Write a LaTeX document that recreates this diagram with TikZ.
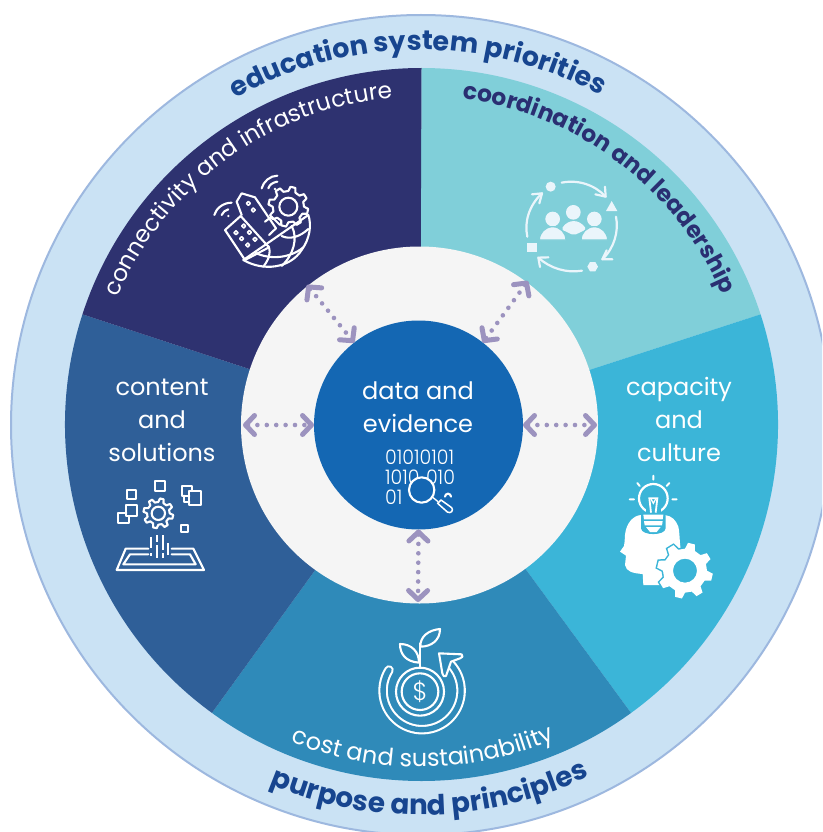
\documentclass[tikz,border=0pt]{standalone}
\usepackage{fontspec}
\setmainfont{Poppins}
\newfontfamily\plight{Poppins Light}
\usetikzlibrary{arrows.meta,decorations.text}
\definecolor{ringfill}{HTML}{CAE2F4}
\definecolor{ringline}{HTML}{9DB8DF}
\definecolor{secA}{HTML}{2E3270}
\definecolor{secB}{HTML}{80CFD9}
\definecolor{secC}{HTML}{3BB5D8}
\definecolor{secD}{HTML}{2F8AB9}
\definecolor{secE}{HTML}{2F5F98}
\definecolor{hubc}{HTML}{1467B3}
\definecolor{innerc}{HTML}{F5F5F5}
\definecolor{arrowc}{HTML}{9C93BF}
\definecolor{titleblue}{HTML}{17458F}
\definecolor{titlenavy}{HTML}{2A2F72}
\definecolor{pale}{HTML}{EAF5FB}
\newcommand{\sector}[3]{\fill[#3] (421.5,424.5) ++(#1:356.5) arc[start angle=#1,end angle=#2,radius=356.5] -- (420,425) -- cycle;}
\newcommand{\gearpts}[3]{% teeth, root, tip
  (0:#2) \foreach \i in {1,...,#1}{
    -- ({(\i-1+0.14)*360/#1}:#3) -- ({(\i-1+0.46)*360/#1}:#3) -- ({(\i-1+0.6)*360/#1}:#2) -- ({\i*360/#1}:#2)
  } -- cycle}
\newcommand{\wlabel}{\fontsize{24}{33}\selectfont}
\newcommand{\topbold}{\fontsize{26.9}{27}\selectfont\bfseries}
\newcommand{\botbold}{\fontsize{27.8}{28}\selectfont\bfseries}
\newcommand{\midbold}{\fontsize{23.3}{24}\selectfont\bfseries}
\newcommand{\midreg}{\fontsize{23.2}{24}\selectfont}
\newcommand{\lowreg}{\fontsize{24}{24}\selectfont}
\tikzset{
  lab/.style={text=white,align=center,inner sep=0pt},
  ico/.style={draw=white,line width=2.1pt,line cap=round,line join=round},
  dotarrow/.style={arrowc,line width=4.6pt,line cap=round,dash pattern=on 0pt off 9.4pt,
    {Straight Barb[length=9pt,width=19pt,line width=5pt,round]}-{Straight Barb[length=9pt,width=19pt,line width=5pt,round]}},
  hubnode/.style={circle,fill=hubc,minimum size=209pt,inner sep=0pt,outer sep=0pt},
}
\begin{document}
\begin{tikzpicture}[x=1pt,y=-1pt]
\useasboundingbox (0,0) rectangle (822,832);
\clip (0,0) rectangle (822,832);
\fill[white] (0,0) rectangle (822,832);
\draw[ringline,fill=ringfill,line width=2pt] (421,425) circle[radius=410];
\sector{270}{342}{secB}
\sector{342}{414}{secC}
\sector{54}{126}{secD}
\sector{126}{198}{secE}
\sector{198}{270}{secA}
\fill[innerc] (419.5,425) circle[radius=178.5];
\node[hubnode] (hub) at (418.5,425) {};
\node[lab,font=\wlabel] (hubtext) at (418,407) {data and\\evidence};
\node[lab,font=\wlabel] (content) at (162,420) {content\\and\\solutions};
\node[lab,font=\wlabel] (capacity) at (679,419) {capacity\\and\\culture};
% curved titles
\path[decorate,decoration={text along path,text color=titleblue,text align=center,
  text={|\topbold|education system priorities}}]
  (421,425) ++(233:375) arc[start angle=233,end angle=306,radius=375];
\path[decorate,decoration={text along path,text color=titleblue,text align=center,
  text={|\botbold|purpose and principles}}]
  (420,425) ++(119:390) arc[start angle=119,end angle=58,radius=390];
\path[decorate,decoration={text along path,text color=titlenavy,text align=center,
  text={|\midbold|coordination and leadership}}]
  (420,425) ++(262:329) arc[start angle=262,end angle=352,radius=329];
\path[decorate,decoration={text along path,text color=white,text align=center,
  text={|\midreg|connectivity and infrastructure}}]
  (420,425) ++(189:328) arc[start angle=189,end angle=279,radius=328];
\path[decorate,decoration={text along path,text color=white,text align=center,
  text={|\lowreg|cost and sustainability}}]
  (420,425) ++(125:342) arc[start angle=125,end angle=54,radius=342];
% arrows
\coordinate (pL) at (243,425);
\coordinate (pR) at (597,425);
\coordinate (pB) at (418,602);
\coordinate (pUL) at (307,285);
\coordinate (pUR) at (528,281);
\draw[dotarrow] (pL) -- (hub.west);
\draw[dotarrow] (hub.east) -- (pR);
\draw[dotarrow] (hub.south) -- (pB);
\draw[dotarrow] (pUL) -- (hub.128);
\draw[dotarrow] (pUR) -- (hub.52);
% ---- binary icon
\node[text=white,inner sep=0pt,font=\plight\fontsize{20}{20.2}\selectfont,align=left,anchor=north west,xscale=.95] (bits) at (385,449.5) {01010101\\1010\,\,010\\01};
\begin{scope}[shift={(370,440)},scale=1/3]
  \draw[ico,fill=hubc] (155,150) circle[radius=38];
  \fill[hubc] (200,170) -- (245,170) -- (245,220) -- (200,220) -- cycle;
  \draw[ico] (225,170) arc[start angle=180,end angle=360,radius=9];
  \draw[ico,line width=1.4pt] (188,172) -- (203,184);
  \draw[ico,fill=hubc,line width=1.5pt] (203,190) -- (213,180) -- (245,203) .. controls (252,212) and (242,222) .. (232,216) -- cycle;
\end{scope}
% ---- connectivity icon
\begin{scope}[shift={(200,160)},scale=1/3]
  \draw[ico] (130,300) -- (325,165);
  \draw[ico] (130,300) .. controls (190,335) and (270,325) .. (305,270) .. controls (330,235) and (335,195) .. (325,165);
  \draw[ico] (165,278) .. controls (210,300) and (270,295) .. (310,262);
  \draw[ico] (205,258) .. controls (215,280) and (205,300) .. (190,320);
  \draw[ico] (275,198) .. controls (295,235) and (280,285) .. (245,318);
  \draw[ico] (245,228) .. controls (270,240) and (300,230) .. (325,207);
  \draw[ico] (125,165) -- (110,125) -- (125,100) -- (165,112) -- (228,205) -- (207,225);
  \draw[ico] (195,185) -- (215,170) -- (240,195);
  \draw[ico] (75,210) -- (122,168) -- (207,262) -- (135,300) -- cycle;
  \foreach \x/\y in {108/218,131/198,125/236,148/217,143/255,165/238,145/130,160/150}
    \draw[ico,line width=1.6pt] (\x-6,\y) -- (\x,\y-6) -- (\x+6,\y) -- (\x,\y+6) -- cycle;
  \begin{scope}[shift={(265,140)}]
    \fill[secA] (0,0) circle[radius=50];
    \draw[ico] \gearpts{8}{47}{60};
    \draw[ico] (0,0) circle[radius=27];
  \end{scope}
  \draw[ico] (43,165) .. controls (48,145) and (70,128) .. (95,128);
  \draw[ico] (65,165) .. controls (68,157) and (76,150) .. (85,148);
  \fill[white] (85,168) circle[radius=4];
  \draw[ico] (185,85) .. controls (190,65) and (210,47) .. (232,47);
  \draw[ico] (205,85) .. controls (208,75) and (218,67) .. (232,65);
  \fill[white] (225,87) circle[radius=4];
\end{scope}
% ---- coordination icon
\begin{scope}[shift={(510,170)},scale=1/3]
  \fill[pale] (128,147) circle[radius=22] (190,127) circle[radius=22] (253,147) circle[radius=22];
  \fill[pale] (158,172) .. controls (175,147) and (207,147) .. (225,172) -- (225,180) -- (198,193) -- (185,193) -- (158,180) -- cycle;
  \draw[secB,line width=1.3pt,fill=pale] (88,210) arc[start angle=180,end angle=360,radius=40] -- cycle;
  \draw[secB,line width=1.3pt,fill=pale] (213,210) arc[start angle=180,end angle=360,radius=40] -- cycle;
  \fill[pale] (122,50) circle[radius=15];
  \fill[pale] (305,93) -- (288,123) -- (322,123) -- cycle;
  \fill[pale] (51,218) rectangle (81,247);
  \fill[pale] (264,290) -- (256,304) -- (240,304) -- (232,290) -- (240,276) -- (256,276) -- cycle;
  \begin{scope}[draw=pale,line width=2.2pt,line cap=round,line join=round]
    \draw (155,38) .. controls (205,28) and (255,45) .. (287,80);
    \draw (256,73) -- (287,80) -- (285,50);
    \draw (318,140) .. controls (327,185) and (312,235) .. (277,268);
    \draw (290,241) -- (277,268) -- (307,268);
    \draw (216,302) .. controls (170,310) and (120,295) .. (85,263);
    \draw (115,262) -- (85,263) -- (90,291);
    \draw (52,200) .. controls (42,155) and (58,105) .. (96,70);
    \draw (66,73) -- (96,70) -- (88,100);
  \end{scope}
\end{scope}
% ---- capacity icon
\begin{scope}[shift={(610,470)},scale=1/3]
  \fill[white] (95,135) .. controls (70,135) and (48,160) .. (45,195) .. controls (44,210) and (44,220) .. (42,228) -- (30,245) -- (48,257) -- (45,285) .. controls (48,305) and (70,310) .. (98,312) -- (100,345) -- (190,345) -- (225,280)
    .. controls (205,240) and (212,200) .. (205,170) .. controls (198,150) and (185,138) .. (165,135) -- cycle;
  \fill[secC] (93,125) -- (167,125) -- (167,175) .. controls (165,198) and (95,198) .. (93,175) -- cycle;
  \draw[white,line width=2.2pt,fill=secC] (130,85) circle[radius=43];
  \fill[secC] (108,118) rectangle (152,135);
  \fill[white] (100,134) -- (160,134) -- (158,148) -- (102,148) -- cycle;
  \fill[white] (102,153) -- (158,153) -- (156,166) -- (104,166) -- cycle;
  \fill[white] (108,171) -- (152,171) -- (140,186) -- (120,186) -- cycle;
  \draw[white,line width=1.8pt] (123,128) -- (118,85) -- (142,85) -- (137,128);
  \draw[white,line width=1.3pt] (122,85) -- (130,100) -- (138,85);
  \draw[white,line width=1.9pt,line cap=round]
    (130,17) -- (130,29) (82,39) -- (89,48) (178,39) -- (170,48) (59,88) -- (72,88) (187,88) -- (200,88);
  \begin{scope}[shift={(225,302)}]
    \draw[secC,line width=3pt,fill=secC] \gearpts{8}{66}{84};
    \fill[white,even odd rule] \gearpts{8}{66}{84} (0,0) circle[radius=36];
  \end{scope}
\end{scope}
% ---- content icon
\begin{scope}[shift={(105,475)},scale=1/3]
  \begin{scope}[shift={(160,115)}]
    \draw[ico] \gearpts{8}{34}{45};
    \draw[ico] (0,0) circle[radius=20];
  \end{scope}
  \draw[ico] (149,19) rectangle (180,48);
  \draw[ico] (66,44) rectangle (93,71);
  \draw[ico] (64,90) rectangle (97,124);
  \draw[ico] (64,113) -- (40,113) -- (40,143) -- (72,143) -- (72,124);
  \draw[ico] (253,48) rectangle (288,90);
  \draw[ico] (253,62) -- (232,62) -- (232,33) -- (262,33) -- (262,48);
  \draw[ico] (253,80) -- (237,80) -- (237,62);
  \draw[ico] (228,150) rectangle (250,172);
  \draw[ico] (130,221) -- (62,221) -- (35,285) -- (297,285) -- (265,221) -- (200,221);
  \draw[ico] (130,238) -- (75,238) -- (55,268) -- (272,268) -- (255,238) -- (200,238);
  \draw[white,line width=2.3pt] (137,185) -- (137,220) (137,235) -- (137,243)
     (155,180) -- (155,200) (155,210) -- (155,250)
     (173,180) -- (173,225) (173,235) -- (173,250)
     (190,205) -- (190,240);
\end{scope}
% ---- cost icon
\begin{scope}[shift={(365,620)},scale=1/3]
  \draw[white,line width=9.5pt,line cap=round] (72,150) arc[start angle=212,end angle=-48,radius=117];
  \draw[secD,line width=5.3pt,line cap=round] (72,150) arc[start angle=212,end angle=-48,radius=117];
  \draw[ico,fill=secD] (222,100) -- (290,103) .. controls (296,108) and (292,113) .. (285,115) -- (258,125) -- (243,168) .. controls (238,172) and (234,168) .. (232,160) -- cycle;
  \draw[ico] (165,215) circle[radius=72];
  \draw[ico] (165,215) circle[radius=55];
  \node[text=white,inner sep=0pt,font=\plight\fontsize{25}{25}\selectfont] (dollar) at (165,215) {\$};
  \draw[ico] (165,143) -- (165,70);
  \draw[ico] (166,80) .. controls (165,50) and (190,30) .. (225,27) .. controls (225,60) and (200,80) .. (166,80) -- cycle;
  \draw[ico] (162,128) .. controls (120,125) and (105,100) .. (105,72) .. controls (140,72) and (162,95) .. (162,128) -- cycle;
\end{scope}
\end{tikzpicture}
\end{document}
